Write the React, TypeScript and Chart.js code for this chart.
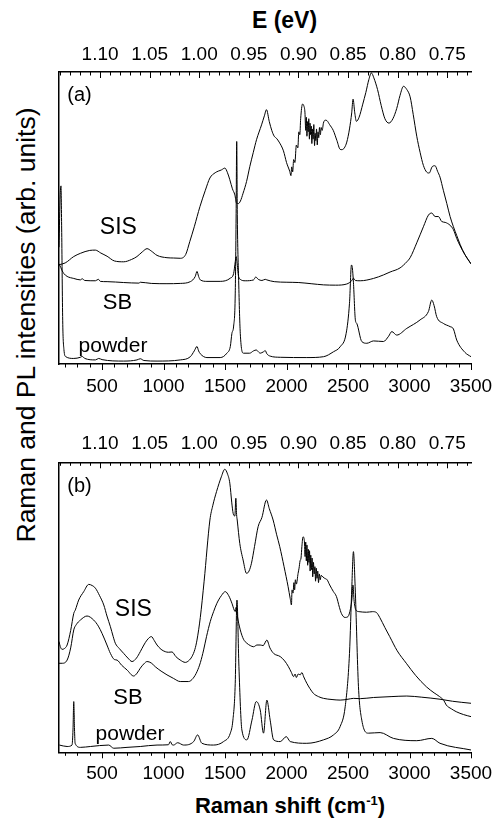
import React, { useEffect, useRef } from "react";
import { Chart, registerables } from "chart.js";

Chart.register(...registerables);

const FONT = "'Liberation Sans', Arial, Helvetica, sans-serif";
Chart.defaults.font.family = FONT;
Chart.defaults.color = "#000";

// Raman shift range (cm-1) and excitation energy used for the top eV axis
const X_MIN = 150;
const X_MAX = 3500;
const E_LASER = 1.16; // eV
const CM_PER_EV = 8065.5;

const bottomTickStep = 100;
const bottomLabelStep = 500;
const topTickStep = 0.01;

type Pt = [number, number];

// ---------- panel (a) ----------
const sisA: Pt[] = [
  [150, 34.0], [200, 34.6], [270, 36.8], [324, 37.9], [400, 38.9], [446, 39.0], [490, 38.0], [541, 36.9],
  [600, 35.3], [676, 35.0], [740, 35.8], [784, 36.8], [830, 38.5], [866, 39.5], [900, 38.7], [947, 37.2],
  [1028, 36.4], [1080, 36.3], [1136, 36.2], [1180, 37.5], [1214, 42], [1250, 47], [1296, 53.9], [1340, 59.5],
  [1377, 63.7], [1420, 65.5], [1472, 66.5], [1499, 67.1], [1520, 65.5], [1539, 63.1], [1560, 60], [1580, 57.9],
  [1593, 55.1], [1607, 54.9], [1625, 55.8], [1647, 58.5], [1675, 62.5], [1702, 67.7], [1730, 72.5], [1756, 76.8],
  [1797, 81.9], [1820, 85], [1837, 87.1], [1860, 83], [1880, 80], [1900, 78], [1918, 77.3], [1940, 76],
  [1975, 73], [2000, 69], [2026, 66], [2036, 64.5], [2042, 67.5], [2050, 65.8], [2058, 70], [2068, 69],
  [2080, 75], [2092, 74], [2100, 79.5], [2108, 78.5], [2115, 84], [2130, 89], [2140, 88.5], [2150, 86],
  [2156, 80], [2161, 84.5], [2166, 78], [2171, 83], [2176, 79.5], [2181, 84], [2186, 77], [2191, 82.5],
  [2196, 78.5], [2201, 81.5], [2206, 75.5], [2211, 80.5], [2216, 77], [2222, 82], [2228, 74.8], [2233, 79],
  [2238, 76.5], [2244, 80.5], [2250, 75], [2256, 79.5], [2262, 77.5], [2268, 81], [2275, 78.5], [2282, 81],
  [2290, 80], [2300, 82.5], [2315, 83.5], [2330, 83.3], [2350, 82], [2380, 80], [2410, 76.5], [2436, 73.5],
  [2450, 73.4], [2470, 74], [2490, 76], [2512, 80.5], [2530, 86], [2541, 90.7], [2555, 86], [2568, 83.1],
  [2590, 84.5], [2620, 89], [2645, 93], [2670, 97.5], [2690, 99.7], [2710, 98], [2740, 94], [2770, 88.5],
  [2800, 84], [2833, 82.5], [2865, 84], [2896, 87.5], [2923, 92], [2951, 95.1], [2978, 94], [3005, 91.5],
  [3030, 85.5], [3059, 78], [3086, 72.5], [3113, 68], [3140, 65.7], [3160, 65.4], [3185, 67.6], [3208, 67.9],
  [3228, 66], [3248, 64], [3275, 59.5], [3303, 55], [3330, 50.5], [3357, 47], [3384, 44], [3411, 41],
  [3450, 37.5], [3500, 34.3],
];

const sbA: Pt[] = [
  [150, 34.3], [165, 33], [175, 32], [189, 31], [216, 30], [270, 29.3], [324, 28.8], [338, 29.2], [360, 28.6],
  [446, 28.5], [470, 29.0], [486, 28.3], [541, 28.2], [676, 27.9], [800, 27.7], [811, 28.0], [900, 27.6],
  [1028, 27.5], [1136, 27.6], [1218, 28.2], [1258, 30], [1272, 31.7], [1285, 30], [1299, 28.8], [1353, 28.3],
  [1461, 28.3], [1543, 29.4], [1570, 31], [1583, 35], [1590, 36.8], [1597, 35], [1610, 30], [1624, 29],
  [1664, 28.5], [1732, 28.8], [1750, 29.8], [1770, 29.0], [1800, 28.6], [1827, 29.0], [1840, 28.8],
  [1900, 28.2], [2003, 28.0], [2100, 27.9], [2200, 27.5], [2301, 27.1], [2400, 27.0], [2490, 27.4],
  [2531, 28.6], [2544, 29.4], [2560, 28.6], [2599, 28.5], [2707, 29.3], [2788, 30.5], [2842, 31.5],
  [2923, 32.9], [2978, 35], [3005, 36.4], [3059, 41.5], [3113, 47], [3154, 51], [3181, 51.7], [3208, 50.5],
  [3235, 50.5], [3262, 48.8], [3290, 48.5], [3330, 47.5], [3357, 46], [3384, 43], [3411, 40.5], [3450, 37.5],
  [3500, 34.3],
];

const powderA: Pt[] = [
  [150, 40], [160, 58], [166, 61], [172, 45], [180, 15], [190, 5], [205, 2.5], [270, 1.9], [324, 2.3],
  [338, 2.6], [360, 1.9], [446, 1.4], [473, 1.9], [500, 1.5], [676, 1.0], [784, 1.4], [811, 1.8], [840, 1.2],
  [947, 1.0], [1136, 1.4], [1218, 2.5], [1250, 4.5], [1272, 6.0], [1285, 4.5], [1299, 3.5], [1353, 2.2],
  [1461, 2.2], [1515, 3.7], [1543, 6], [1556, 10.5], [1570, 13], [1583, 24], [1590, 50], [1595, 76.2],
  [1600, 50], [1610, 30], [1624, 10.5], [1650, 3.7], [1700, 3.7], [1732, 4.5], [1754, 4.8], [1775, 4.0],
  [1786, 3.7], [1813, 4.2], [1827, 4.6], [1840, 3.5], [1867, 2.7], [1949, 2.3], [2165, 2.2], [2301, 2.5],
  [2382, 4.2], [2436, 5.9], [2485, 10.5], [2512, 20.8], [2528, 33.9], [2535, 33], [2544, 28], [2560, 15],
  [2571, 13.9], [2612, 7.7], [2653, 7.1], [2707, 7.9], [2788, 7.7], [2830, 9.5], [2856, 11.1], [2896, 9.9],
  [2978, 12.2], [3086, 15.1], [3154, 18], [3181, 21.9], [3200, 20], [3221, 16.2], [3275, 13.9], [3330, 12.8],
  [3357, 12], [3384, 8.2], [3450, 4], [3500, 2.5],
];

// ---------- panel (b) ----------
const sisB: Pt[] = [
  [150, 38.2], [160, 36.5], [175, 35.5], [195, 35.8], [216, 37.0], [245, 42], [270, 47.9], [283, 49.1],
  [310, 52.5], [351, 55.4], [392, 57.9], [420, 57.5], [446, 56.6], [480, 54], [514, 50.8], [540, 47],
  [568, 43.3], [590, 40], [608, 37.6], [640, 35.8], [676, 34.1], [710, 32.5], [744, 31.3], [780, 32.5],
  [811, 34.7], [840, 37], [866, 38.7], [901, 39.9], [925, 38.5], [947, 37.0], [980, 35.5], [1014, 34.7],
  [1040, 34.5], [1069, 34.6], [1100, 33], [1136, 31.8], [1177, 31.0], [1205, 31.6], [1231, 33.0], [1255, 35.5],
  [1272, 38.7], [1299, 46.5], [1330, 59], [1377, 80.1], [1400, 85], [1431, 89.9], [1470, 95], [1498, 97.6],
  [1520, 96], [1539, 92.8], [1555, 86], [1566, 82.4], [1580, 81.5], [1588, 87.6], [1594, 82], [1599, 80.1],
  [1620, 72], [1647, 66.3], [1675, 61.7], [1695, 62.5], [1715, 65.2], [1740, 71], [1769, 77.8], [1800, 81],
  [1837, 87.0], [1860, 84], [1891, 80.1], [1920, 75], [1945, 70.9], [1980, 64], [2013, 57.1], [2030, 53],
  [2040, 50.8], [2045, 56], [2053, 54.9], [2060, 58.5], [2066, 56], [2072, 59.5], [2080, 58], [2094, 61.7],
  [2102, 63.5], [2110, 66], [2118, 67], [2125, 71], [2134, 74.3], [2145, 73], [2151, 67.5], [2156, 72.5],
  [2161, 66], [2166, 71.5], [2172, 64.5], [2177, 70], [2182, 65.5], [2187, 69.5], [2192, 62.5], [2197, 68],
  [2203, 63], [2208, 67], [2213, 60.5], [2219, 65.5], [2225, 61.5], [2231, 64], [2236, 59], [2242, 63.5],
  [2248, 60], [2254, 62.5], [2260, 58.5], [2267, 61.5], [2274, 59.5], [2282, 61], [2295, 60.5], [2310, 60],
  [2330, 59.5], [2351, 57.7], [2380, 55.5], [2406, 53.7], [2430, 50], [2446, 47.9], [2475, 46.5], [2500, 46.8],
  [2520, 49.5], [2532, 53], [2540, 57.7], [2550, 52], [2565, 49], [2590, 48.5], [2650, 48.3], [2700, 48.5],
  [2731, 48.2], [2758, 46.5], [2800, 43], [2839, 39.9], [2900, 35], [2974, 30.7], [3050, 26.5], [3137, 22.6],
  [3200, 20.5], [3245, 19.2], [3280, 17.8], [3299, 16.3], [3340, 15], [3380, 14.0], [3440, 13.0], [3500, 12.3],
];

const sbB: Pt[] = [
  [150, 30.7], [175, 30.7], [216, 31.8], [245, 36], [270, 42.2], [290, 44], [324, 45.6], [378, 47.0],
  [432, 45.6], [470, 43.5], [500, 41.0], [540, 37], [568, 34.1], [600, 32], [622, 31.8], [660, 30],
  [703, 28.4], [757, 26.3], [785, 27.3], [811, 29.0], [840, 30.5], [866, 31.3], [900, 30.8], [933, 29.5],
  [980, 28], [1028, 26.7], [1080, 25.5], [1136, 24.4], [1204, 24.4], [1240, 25.5], [1272, 27.8], [1300, 31],
  [1326, 35.3], [1350, 40], [1380, 45.1], [1407, 48.5], [1434, 51.4], [1470, 54], [1502, 55.4], [1530, 54],
  [1556, 51.4], [1575, 49], [1583, 48.5], [1590, 50], [1600, 47], [1624, 42.2], [1650, 39], [1678, 37.6],
  [1705, 36.8], [1732, 36.4], [1760, 37], [1786, 37.0], [1810, 36.8], [1840, 38.7], [1865, 36], [1895, 34.1],
  [1949, 33.0], [1985, 31.5], [2016, 29.5], [2040, 27.5], [2057, 26.1], [2070, 27], [2080, 25.8], [2095, 27],
  [2111, 26.7], [2125, 27.5], [2140, 26], [2165, 23.8], [2190, 22], [2219, 20.3], [2260, 19.2], [2301, 18.6],
  [2370, 18.2], [2436, 18.0], [2500, 18.3], [2544, 18.6], [2600, 18.5], [2707, 18.9], [2850, 19.2],
  [2978, 19.4], [3100, 19], [3248, 18.3], [3350, 17.6], [3500, 16.9],
];

const powderB: Pt[] = [
  [153, 2.5], [216, 2.0], [256, 2.5], [264, 8], [270, 17.5], [276, 8], [281, 3.1], [324, 1.7], [405, 2.0],
  [554, 2.5], [595, 1.4], [703, 1.7], [811, 2.0], [947, 2.5], [1040, 2.6], [1055, 3.7], [1070, 2.6],
  [1082, 2.5], [1115, 3.3], [1163, 2.5], [1245, 3.7], [1277, 6.0], [1312, 3.1], [1407, 2.5], [1488, 3.7],
  [1543, 6.6], [1564, 11.1], [1583, 23.8], [1597, 52.5], [1613, 29.5], [1637, 7.7], [1678, 4.3], [1719, 11.1],
  [1754, 17.5], [1786, 14.6], [1813, 6.6], [1840, 18.0], [1867, 11.1], [1895, 4.3], [1949, 3.7], [1998, 5.4],
  [2030, 3.7], [2165, 3.1], [2301, 4.3], [2382, 6.0], [2436, 8.9], [2477, 15.7], [2512, 34.1], [2531, 57.1],
  [2544, 69.2], [2558, 57.1], [2585, 22.6], [2612, 11.1], [2666, 6.6], [2761, 6.8], [2869, 4.8], [3059, 4.0],
  [3181, 4.8], [3248, 3.1], [3500, 0.8],
];

// text annotations placed in data coordinates [x (cm-1), y (a.u.)]
type Note = { text: string; x: number; y: number; size: number };
const notesA: Note[] = [
  { text: "(a)", x: 317, y: 91.8, size: 20 },
  { text: "SIS", x: 633, y: 46.7, size: 23 },
  { text: "SB", x: 625, y: 20.8, size: 22 },
  { text: "powder", x: 589, y: 6.2, size: 21 },
];
const notesB: Note[] = [
  { text: "(b)", x: 317, y: 91.8, size: 20 },
  { text: "SIS", x: 755, y: 49.1, size: 23 },
  { text: "SB", x: 711, y: 18.7, size: 22 },
  { text: "powder", x: 727, y: 6.3, size: 21 },
];

const tickMarksPlugin = {
  id: "tickMarks",
  afterDraw(chart: any) {
    const ctx = chart.ctx;
    const xb = chart.scales.x;
    const xt = chart.scales.x2;
    const area = chart.chartArea;
    ctx.save();
    ctx.strokeStyle = "#000";
    ctx.lineWidth = 1;
    xb.ticks.forEach((t: any) => {
      const px = Math.round(xb.getPixelForValue(t.value)) + 0.5;
      const major = Math.round(t.value) % bottomLabelStep === 0;
      const len = major ? 6 : 3.5;
      ctx.beginPath();
      ctx.moveTo(px, area.bottom);
      ctx.lineTo(px, area.bottom + len);
      ctx.stroke();
    });
    xt.ticks.forEach((t: any) => {
      const px = Math.round(xt.getPixelForValue(t.value)) + 0.5;
      const major = Math.round(t.value * 100) % 5 === 0;
      const len = major ? 6 : 3.5;
      ctx.beginPath();
      ctx.moveTo(px, area.top);
      ctx.lineTo(px, area.top + len);
      ctx.stroke();
    });
    ctx.restore();
  },
};

const notesPlugin = {
  id: "notes",
  afterDatasetsDraw(chart: any, _args: any, opts: any) {
    const ctx = chart.ctx;
    const notes: Note[] = opts.items || [];
    ctx.save();
    ctx.fillStyle = "#000";
    ctx.textAlign = "center";
    ctx.textBaseline = "middle";
    notes.forEach((n) => {
      ctx.font = `${n.size}px ${FONT}`;
      ctx.fillText(n.text, chart.scales.x.getPixelForValue(n.x), chart.scales.y.getPixelForValue(n.y));
    });
    ctx.restore();
  },
};

function toXY(pts: Pt[]) {
  return pts.map(([x, y]) => ({ x, y }));
}

function line(pts: Pt[]) {
  return {
    data: toXY(pts),
    borderColor: "#000",
    borderWidth: 1,
    pointRadius: 0,
    fill: false,
    cubicInterpolationMode: "monotone" as const,
  };
}

type PanelProps = {
  series: Pt[][];
  notes: Note[];
  height: number;
  topAxisH: number;
  bottomAxisH: number;
  topPad: number;
  bottomPad: number;
};

function Panel({ series, notes, height, topAxisH, bottomAxisH, topPad, bottomPad }: PanelProps) {
  const ref = useRef<HTMLCanvasElement | null>(null);
  useEffect(() => {
    if (!ref.current) return;
    const chart = new Chart(ref.current, {
      type: "line",
      data: { datasets: series.map(line) as any },
      options: {
        animation: false,
        responsive: true,
        maintainAspectRatio: false,
        layout: { padding: { left: 59, right: 25, top: 0, bottom: 0 } },
        plugins: {
          legend: { display: false },
          tooltip: { enabled: false },
          notes: { items: notes },
        } as any,
        scales: {
          x: {
            type: "linear",
            position: "bottom",
            min: X_MIN,
            max: X_MAX,
            ticks: {
              stepSize: bottomTickStep,
              includeBounds: false,
              autoSkip: false,
              maxRotation: 0,
              padding: bottomPad,
              font: { size: 19, family: FONT },
              color: "#000",
              callback: (v: any) => (Math.round(v) % bottomLabelStep === 0 ? String(v) : ""),
            },
            grid: { drawOnChartArea: false, drawTicks: false },
            border: { display: true, color: "#000", width: 1.5 },
            afterFit: (s: any) => {
              s.height = bottomAxisH;
              s.paddingLeft = 0;
              s.paddingRight = 0;
            },
          },
          x2: {
            type: "linear",
            position: "top",
            min: E_LASER - X_MAX / CM_PER_EV,
            max: E_LASER - X_MIN / CM_PER_EV,
            reverse: true,
            ticks: {
              stepSize: topTickStep,
              includeBounds: false,
              autoSkip: false,
              maxRotation: 0,
              padding: topPad,
              font: { size: 19, family: FONT },
              color: "#000",
              callback: (v: any) => (Math.round(v * 100) % 5 === 0 ? Number(v).toFixed(2) : ""),
            },
            grid: { drawOnChartArea: false, drawTicks: false },
            border: { display: true, color: "#000", width: 1.5 },
            afterFit: (s: any) => {
              s.height = topAxisH;
              s.paddingLeft = 0;
              s.paddingRight = 0;
            },
          },
          y: {
            type: "linear",
            min: 0,
            max: 100,
            ticks: { display: false },
            grid: { drawOnChartArea: false, drawTicks: false },
            border: { display: true, color: "#000", width: 1.5 },
            afterFit: (s: any) => {
              s.width = 0;
              s.paddingTop = 0;
              s.paddingBottom = 0;
            },
          },
        } as any,
      },
      plugins: [tickMarksPlugin, notesPlugin],
    });
    return () => chart.destroy();
  }, []);
  return (
    <div style={{ position: "relative", width: 496, height }}>
      <canvas ref={ref} />
    </div>
  );
}

export default function App() {
  return (
    <div
      style={{
        position: "absolute",
        left: 0,
        top: 0,
        width: 496,
        height: 827,
        background: "#fff",
        fontFamily: FONT,
        color: "#000",
      }}
    >
      <div
        style={{
          position: "absolute",
          left: 284.5,
          top: 20,
          transform: "translate(-50%, -50%)",
          fontWeight: "bold",
          fontSize: 23,
          whiteSpace: "nowrap",
        }}
      >
        E (eV)
      </div>
      <div
        style={{
          position: "absolute",
          left: 26,
          top: 325,
          transform: "translate(-50%, -50%) rotate(-90deg)",
          fontSize: 26.5,
          whiteSpace: "nowrap",
        }}
      >
        Raman and PL intensities (arb. units)
      </div>
      <div
        style={{
          position: "absolute",
          left: 290,
          top: 806,
          transform: "translate(-50%, -50%)",
          fontWeight: "bold",
          fontSize: 22,
          whiteSpace: "nowrap",
        }}
      >
        Raman shift (cm<sup style={{ fontSize: 13, verticalAlign: "super", lineHeight: 0 }}>-1</sup>)
      </div>
      <div style={{ position: "absolute", left: 0, top: 0 }}>
        <Panel
          series={[sisA, sbA, powderA]}
          notes={notesA}
          height={410}
          topAxisH={72}
          bottomAxisH={46}
          topPad={5.6}
          bottomPad={11.5}
        />
      </div>
      <div style={{ position: "absolute", left: 0, top: 410 }}>
        <Panel
          series={[sisB, sbB, powderB]}
          notes={notesB}
          height={417}
          topAxisH={52.3}
          bottomAxisH={74.7}
          topPad={7.6}
          bottomPad={10.5}
        />
      </div>
    </div>
  );
}
